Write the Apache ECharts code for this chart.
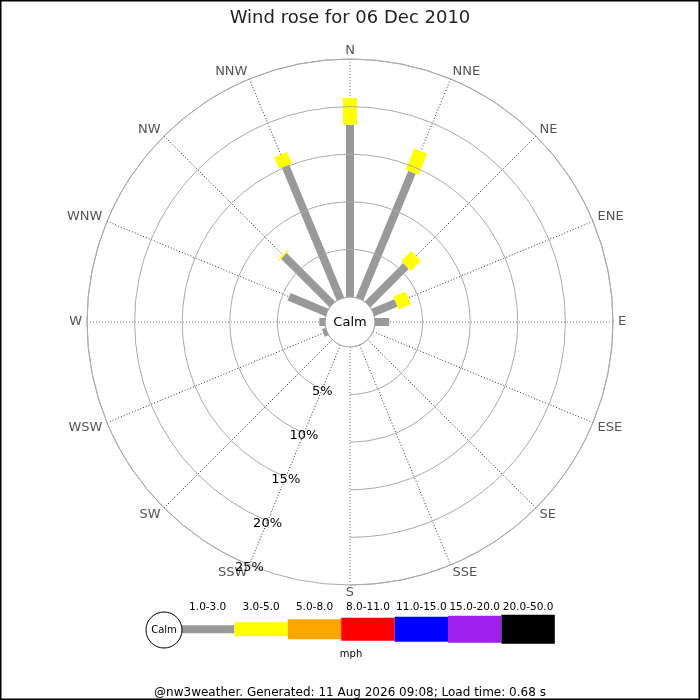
<!DOCTYPE html>
<html><head><meta charset="utf-8">
<script src="https://cdn.jsdelivr.net/npm/echarts@6/dist/echarts.min.js"></script>
<style>html,body{margin:0;padding:0;background:#fff}#c{width:700px;height:700px}</style>
</head><body><div id="c"></div>
<script>
// ---- data ----
const directions = ['N','NNE','NE','ENE','E','ESE','SE','SSE','S','SSW','SW','WSW','W','WNW','NW','NNW'];
const speedBins = ['1.0-3.0','3.0-5.0','5.0-8.0','8.0-11.0','11.0-15.0','15.0-20.0','20.0-50.0'];
const radiusTicks = [0, 5, 10, 15, 20, 25];
// frequency (%) per direction, speed 1.0-3.0 mph
const freq_1_3 = [18.1, 14.4, 5.7, 2.6, 1.5, 0, 0, 0, 0, 0, 0, 0.4, 0.6, 4.3, 7.2, 15.1];
// frequency (%) per direction, speed 3.0-5.0 mph
const freq_3_5 = [2.8, 2.4, 1.5, 1.4, 0, 0, 0, 0, 0, 0, 0, 0, 0, 0, 0.15, 1.3];
const titleText = 'Wind rose for 06 Dec 2010';
const footerText = '@nw3weather. Generated: 11 Aug 2026 09:08; Load time: 0.68 s';

// ---- style ----
const binColors = ['#999999','#ffff00','#ffa500','#ff0000','#0000ff','#a020f0','#000000'];
const binThickness = [8, 14, 20, 23, 25, 27, 29];
const FONT = 'DejaVu Sans';

// radius axis labels sit along SSW spoke -> angle axis starts at SSW
const startIdx = directions.indexOf('SSW');
const axisOrder = directions.slice(startIdx).concat(directions.slice(0, startIdx));
const toAxisIdx = i => (i - startIdx + directions.length) % directions.length;
const cardinal = ['N', 'E', 'S', 'W'];
const spokeColors = axisOrder.map(d => cardinal.indexOf(d) >= 0 ? '#777' : '#333');

const seriesList = [freq_1_3, freq_3_5];
const base = directions.map(() => 0);
const series = seriesList.map((vals, k) => {
  const data = vals.map((v, i) => {
    const item = [base[i] + v, toAxisIdx(i), base[i]];
    base[i] += v;
    return item;
  });
  return {
    type: 'custom', coordinateSystem: 'polar', name: speedBins[k],
    data, silent: true, z: 5, animation: false,
    encode: { radius: 0, angle: 1 },
    renderItem: (params, api) => {
      const r1 = api.value(0), a = api.value(1), r0 = api.value(2);
      if (!(r1 > r0)) return null;
      const p0 = api.coord([r0, a]), p1 = api.coord([r1, a]);
      let dx = p1[0] - p0[0], dy = p1[1] - p0[1];
      const len = Math.sqrt(dx * dx + dy * dy) || 1;
      dx /= len; dy /= len;
      const h = binThickness[k] / 2;
      const nx = -dy * h, ny = dx * h;
      return {
        type: 'polygon',
        shape: { points: [[p0[0] + nx, p0[1] + ny], [p1[0] + nx, p1[1] + ny], [p1[0] - nx, p1[1] - ny], [p0[0] - nx, p0[1] - ny]] },
        style: { fill: binColors[k] }
      };
    }
  };
});

// legend graphics
const legendX0 = 181, segW = 53.4, legendY = 629.3;
const graphics = [
  { type: 'rect', shape: { x: 0.5, y: 0.5, width: 699, height: 699 }, style: { fill: 'none', stroke: '#000', lineWidth: 2 }, z: 100 },
  { type: 'text', x: 350, y: 322.5, style: { text: 'Calm', font: '13px "DejaVu Sans"', fill: '#000', align: 'center', verticalAlign: 'middle' }, z: 10 },
  { type: 'circle', shape: { cx: 164, cy: 630, r: 18 }, style: { fill: '#fff', stroke: '#000', lineWidth: 1 }, z: 12 },
  { type: 'text', x: 164, y: 630, style: { text: 'Calm', font: '10px "DejaVu Sans"', fill: '#000', align: 'center', verticalAlign: 'middle' }, z: 13 },
  { type: 'text', x: 351, y: 654, style: { text: 'mph', font: '10px "DejaVu Sans"', fill: '#000', align: 'center', verticalAlign: 'middle' }, z: 10 },
  { type: 'text', x: 350, y: 692.5, style: { text: footerText, font: '12px "DejaVu Sans"', fill: '#000', align: 'center', verticalAlign: 'middle' }, z: 10 }
];
speedBins.forEach((lab, k) => {
  const x = legendX0 + k * segW;
  const th = binThickness[k];
  graphics.push({ type: 'rect', shape: { x: x, y: legendY - th / 2, width: segW, height: th }, style: { fill: binColors[k] }, z: 11 });
  graphics.push({ type: 'text', x: x + segW / 2, y: 607, style: { text: lab, font: '10.5px "DejaVu Sans"', fill: '#000', align: 'center', verticalAlign: 'middle' }, z: 11 });
});

const chart = echarts.init(document.getElementById('c'), null, { renderer: 'canvas' });
chart.setOption({
  backgroundColor: '#fff',
  animation: false,
  title: { text: titleText, left: 'center', top: 4, textStyle: { fontSize: 18, fontWeight: 'normal', color: '#222', fontFamily: FONT } },
  polar: { center: [350, 322], radius: [25, 263] },
  angleAxis: {
    type: 'category', data: axisOrder, startAngle: 247.5, clockwise: true, boundaryGap: false,
    axisLine: { show: true, lineStyle: { color: '#aaa', width: 1 } },
    axisTick: { show: false },
    splitLine: { show: true, lineStyle: { color: spokeColors, width: 1, type: [1, 2] } },
    axisLabel: { color: '#555', fontSize: 13, fontFamily: FONT, margin: 5, lineHeight: 6 },
    z: 1
  },
  radiusAxis: {
    type: 'value', min: radiusTicks[0], max: radiusTicks[radiusTicks.length - 1], interval: radiusTicks[1] - radiusTicks[0],
    axisLine: { show: false }, axisTick: { show: false },
    splitLine: { show: true, lineStyle: { color: '#aaa', width: 1 } },
    axisLabel: { formatter: v => v === 0 ? '' : v + '%', color: '#000', fontSize: 13, fontFamily: FONT, margin: 0, align: 'center', verticalAlign: 'top', lineHeight: 6 },
    z: 20
  },
  series: series,
  graphic: graphics
});
</script></body></html>
